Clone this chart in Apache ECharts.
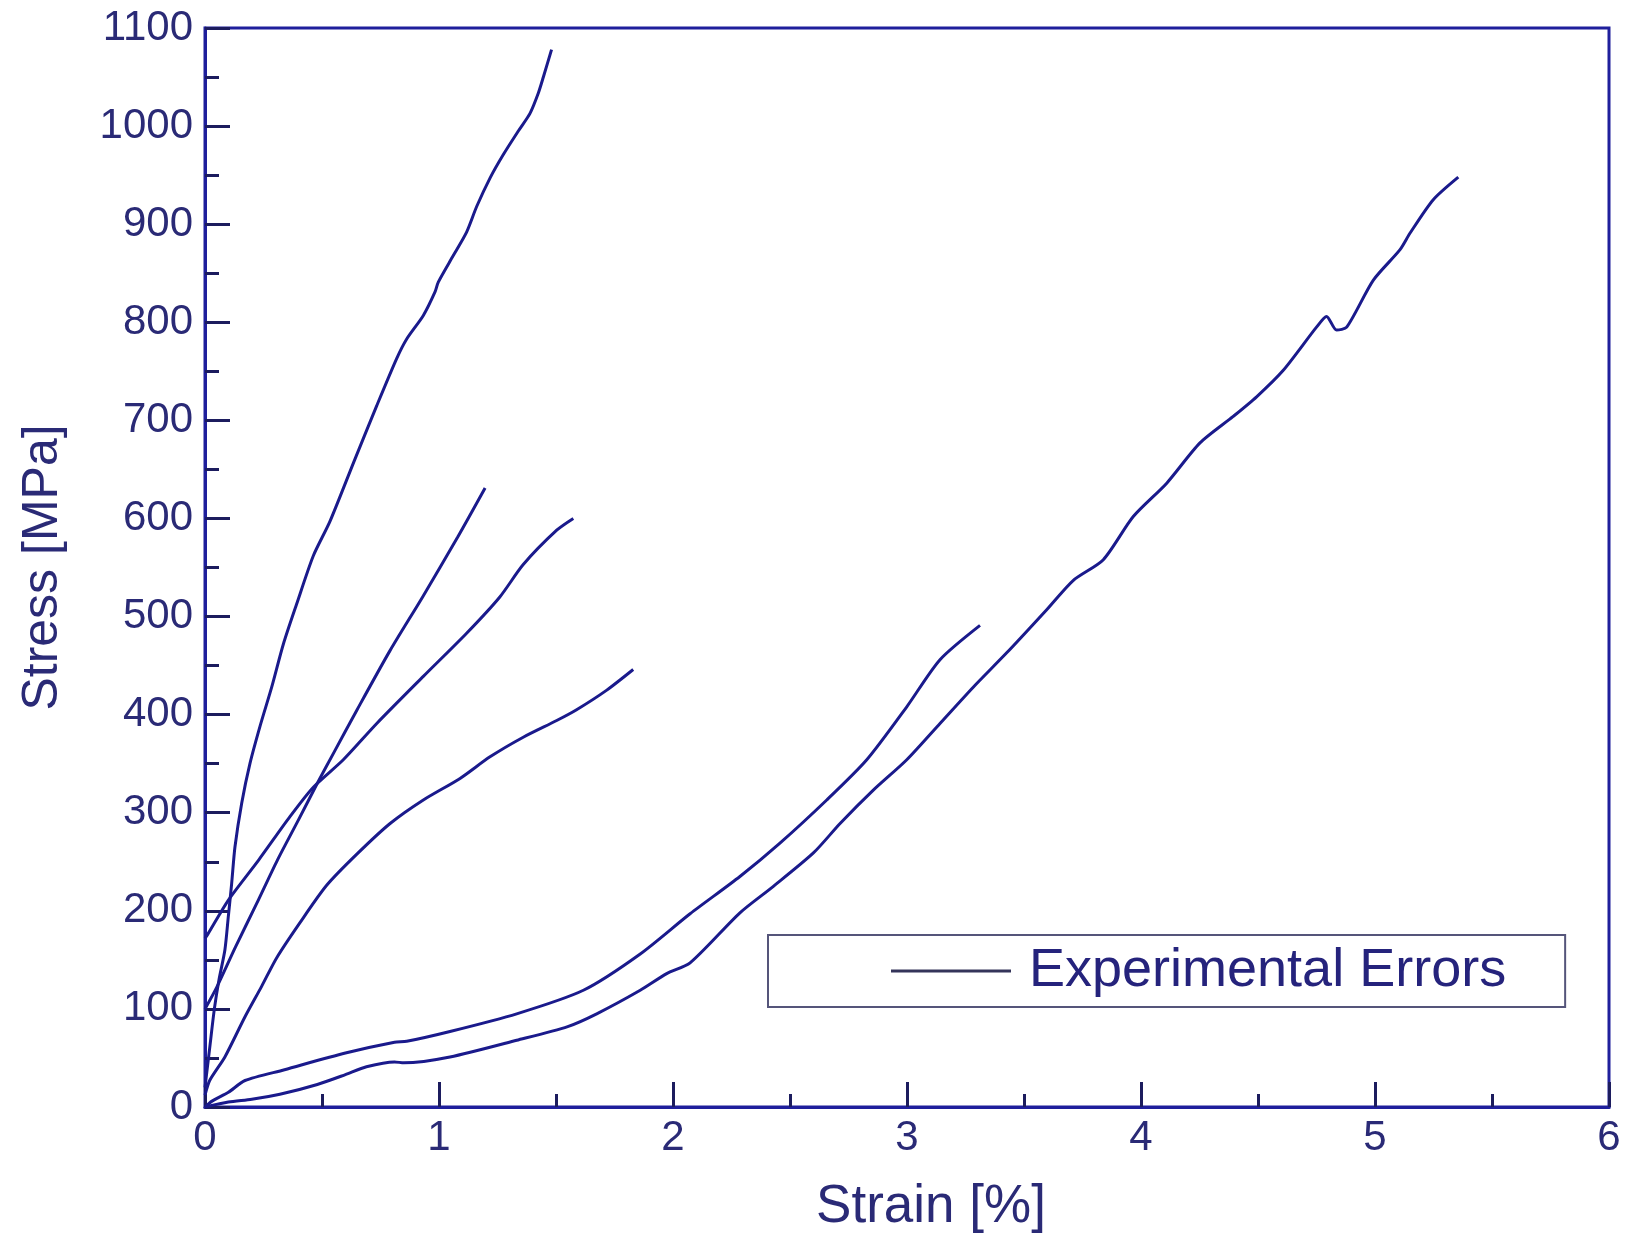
<!DOCTYPE html>
<html>
<head>
<meta charset="utf-8">
<title>Stress–strain curves</title>
<script src="https://cdn.jsdelivr.net/npm/echarts@6/dist/echarts.min.js"></script>
<style>
  html, body { margin: 0; padding: 0; background: #ffffff; }
  #chart { width: 1625px; height: 1240px; }
</style>
</head>
<body>
<div id="chart"></div>
<script>
// Tensile test curves: [strain %, stress MPa]
const specimenA = [[0, 20], [0.02, 60], [0.04, 100], [0.06, 130], [0.085, 160], [0.1, 195], [0.114, 228], [0.128, 265], [0.157, 310], [0.192, 350], [0.235, 388], [0.285, 428], [0.335, 472], [0.392, 513], [0.463, 562], [0.534, 597], [0.64, 660], [0.734, 715], [0.819, 763], [0.862, 783], [0.933, 807], [0.983, 831], [0.997, 841], [1.061, 868], [1.118, 892], [1.161, 918], [1.218, 947], [1.275, 971], [1.339, 995], [1.389, 1013], [1.425, 1034], [1.446, 1050], [1.481, 1078]];
const specimenB = [[0, 100], [0.05, 122], [0.13, 163], [0.22, 207], [0.31, 252], [0.4, 293], [0.48, 330], [0.55, 361], [0.65, 405], [0.79, 465], [0.93, 520], [1.08, 581], [1.197, 631]];
const specimenC = [[0, 172], [0.014, 177], [0.1, 211], [0.23, 252], [0.363, 296], [0.463, 326], [0.591, 354], [0.734, 391], [0.933, 439], [1.118, 483], [1.26, 520], [1.36, 553], [1.503, 588], [1.574, 600]];
const specimenD = [[0, 12], [0.02, 27], [0.085, 51], [0.171, 92], [0.242, 123], [0.306, 152], [0.406, 188], [0.52, 226], [0.65, 258], [0.791, 289], [0.933, 313], [1.09, 335], [1.218, 357], [1.36, 377], [1.503, 394], [1.588, 405], [1.717, 425], [1.83, 446]];
const specimenE = [[0, 0], [0.03, 6], [0.1, 15], [0.171, 27], [0.34, 38], [0.6, 55], [0.81, 66], [0.862, 67], [1.047, 77], [1.332, 95], [1.617, 119], [1.86, 156], [2.073, 197], [2.286, 235], [2.457, 269], [2.657, 313], [2.828, 354], [2.999, 408], [3.141, 456], [3.312, 491]];
const specimenF = [[0, 0], [0.1, 5], [0.2, 8], [0.32, 13], [0.48, 23], [0.6, 33], [0.69, 41], [0.81, 46], [0.85, 45], [1.047, 51], [1.332, 68], [1.55, 82], [1.674, 95], [1.86, 119], [1.973, 136], [2.073, 147], [2.286, 198], [2.429, 225], [2.6, 259], [2.714, 289], [2.856, 323], [2.999, 354], [3.141, 391], [3.283, 428], [3.426, 463], [3.597, 507], [3.711, 537], [3.839, 558], [3.967, 602], [4.11, 636], [4.252, 677], [4.394, 704], [4.494, 724], [4.608, 751], [4.75, 795], [4.793, 806], [4.836, 792], [4.879, 795], [4.993, 843], [5.107, 874], [5.15, 891], [5.249, 925], [5.356, 948]];

const curves = [specimenA, specimenB, specimenC, specimenD, specimenE, specimenF];
const seriesName = 'Experimental Errors';
const xTitle = 'Strain [%]';
const yTitle = 'Stress [MPa]';

const FONT = '"Liberation Sans", Arial, Helvetica, sans-serif';
const AXIS_BLUE = '#1f1f9c';
const TICK_DARK = '#1c1c5e';
const TEXT_COLOR = '#2a2a76';
const CURVE_COLOR = '#1a1a8c';

const chart = echarts.init(document.getElementById('chart'), null, { renderer: 'canvas' });

chart.setOption({
  backgroundColor: '#ffffff',
  animation: false,
  grid: {
    left: 205, right: 16, top: 28, bottom: 133,
    show: true,
    borderColor: AXIS_BLUE,
    borderWidth: 3,
    backgroundColor: 'transparent'
  },
  legend: {
    data: [seriesName],
    left: 768,
    top: 935,
    padding: [6, 59, 6, 123],
    icon: 'rect',
    itemWidth: 120,
    itemHeight: 3,
    borderColor: '#55557a',
    borderWidth: 2,
    backgroundColor: '#ffffff',
    itemStyle: { color: '#34345a', borderWidth: 0 },
    textStyle: {
      fontFamily: FONT,
      fontSize: 54,
      color: '#25237c',
      lineHeight: 60,
      padding: [0, 0, 0, 13]
    }
  },
  xAxis: {
    type: 'value',
    min: 0, max: 6, interval: 1,
    name: xTitle,
    nameLocation: 'middle',
    nameGap: 74,
    nameTextStyle: { fontFamily: FONT, fontSize: 53, color: TEXT_COLOR, padding: [0, 0, 0, 48] },
    axisLine: { show: true, onZero: false, lineStyle: { color: AXIS_BLUE, width: 3 } },
    axisTick: { show: true, inside: true, length: 25, lineStyle: { color: TICK_DARK, width: 3 } },
    minorTick: { show: true, splitNumber: 2, length: 13, lineStyle: { color: TICK_DARK, width: 3 } },
    splitLine: { show: false },
    axisLabel: { fontFamily: FONT, fontSize: 42, color: TEXT_COLOR, margin: 10 }
  },
  yAxis: {
    type: 'value',
    min: 0, max: 1100, interval: 100,
    name: yTitle,
    nameLocation: 'middle',
    nameGap: 137,
    nameTextStyle: { fontFamily: FONT, fontSize: 50, color: TEXT_COLOR },
    axisLine: { show: true, onZero: false, lineStyle: { color: AXIS_BLUE, width: 3 } },
    axisTick: { show: true, inside: true, length: 25, lineStyle: { color: TICK_DARK, width: 3 } },
    minorTick: { show: true, splitNumber: 2, length: 14, lineStyle: { color: TICK_DARK, width: 3 } },
    splitLine: { show: false },
    axisLabel: {
      fontFamily: FONT, fontSize: 42, color: TEXT_COLOR, margin: 12,
      formatter: function (v) { return String(v); }
    }
  },
  series: curves.map(function (pts) {
    return {
      name: seriesName,
      type: 'line',
      data: pts,
      symbol: 'none',
      smooth: 0.25,
      clip: true,
      lineStyle: { color: CURVE_COLOR, width: 3 },
      itemStyle: { color: CURVE_COLOR }
    };
  })
});
</script>
</body>
</html>
